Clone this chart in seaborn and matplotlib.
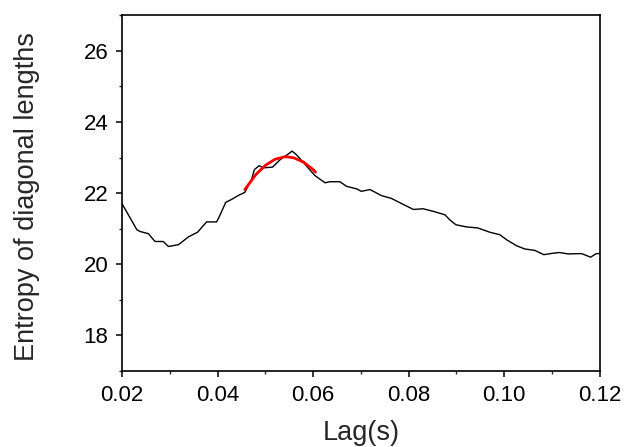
import matplotlib
matplotlib.use("Agg")
import matplotlib.pyplot as plt
import seaborn as sns
import pandas as pd
from matplotlib.ticker import MultipleLocator

lag = [0.0200, 0.0231, 0.0238, 0.0255, 0.0269, 0.0286, 0.0297, 0.0318, 0.0339, 0.0358,
       0.0377, 0.0398, 0.0406, 0.0417, 0.0429, 0.0443, 0.0457, 0.0471, 0.0477, 0.0487,
       0.0496, 0.0515, 0.0531, 0.0546, 0.0556, 0.0565, 0.0579, 0.0604, 0.0625, 0.0635,
       0.0656, 0.0670, 0.0691, 0.0701, 0.0719, 0.0743, 0.0764, 0.0789, 0.0810, 0.0830,
       0.0851, 0.0876, 0.0886, 0.0899, 0.0921, 0.0945, 0.0970, 0.0991, 0.1005, 0.1026,
       0.1043, 0.1064, 0.1083, 0.1102, 0.1116, 0.1134, 0.1162, 0.1181, 0.1193, 0.1200]
entropy = [21.70, 20.97, 20.92, 20.86, 20.64, 20.64, 20.50, 20.55, 20.77, 20.90,
           21.19, 21.19, 21.41, 21.74, 21.82, 21.93, 22.02, 22.38, 22.66, 22.77,
           22.71, 22.73, 22.94, 23.08, 23.18, 23.08, 22.87, 22.49, 22.29, 22.32,
           22.32, 22.19, 22.12, 22.05, 22.10, 21.93, 21.85, 21.68, 21.54, 21.56,
           21.49, 21.39, 21.25, 21.11, 21.05, 21.02, 20.90, 20.83, 20.69, 20.52,
           20.43, 20.39, 20.27, 20.31, 20.33, 20.29, 20.30, 20.20, 20.30, 20.30]

fit_lag = [0.0457, 0.0480, 0.0500, 0.0520, 0.0540, 0.0545, 0.0560, 0.0580, 0.0600, 0.0605]
fit_entropy = [22.10, 22.52, 22.78, 22.95, 23.02, 23.02, 22.99, 22.87, 22.66, 22.59]

x_ticks = [0.02, 0.04, 0.06, 0.08, 0.10, 0.12]
x_labels = ["0.02", "0.04", "0.06", "0.08", "0.10", "0.12"]
y_ticks = [18, 20, 22, 24, 26]

sns.set_style("ticks")
plt.rcParams["font.family"] = ["Liberation Sans", "DejaVu Sans"]

fig = plt.figure(figsize=(6.26, 4.47), dpi=100)
ax = fig.add_axes([0.195, 0.170, 0.763, 0.796])

df = pd.DataFrame({"lag": lag, "entropy": entropy})
fit = pd.DataFrame({"lag": fit_lag, "entropy": fit_entropy})
sns.lineplot(data=df, x="lag", y="entropy", ax=ax, color="black", linewidth=1.0, sort=False)
sns.lineplot(data=fit, x="lag", y="entropy", ax=ax, color="#ff0000", linewidth=2.0, sort=False)

ax.set_xlim(0.02, 0.12)
ax.set_ylim(17, 27)
ax.set_xticks(x_ticks)
ax.set_xticklabels(x_labels)
ax.set_yticks(y_ticks)
ax.xaxis.set_minor_locator(MultipleLocator(0.01))
ax.yaxis.set_minor_locator(MultipleLocator(1))
ax.tick_params(which="major", direction="out", length=4, width=1.1, labelsize=16, colors="black")
ax.tick_params(axis="y", which="major", pad=6)
ax.tick_params(axis="x", which="major", pad=6)
ax.tick_params(which="minor", direction="out", length=2.5, width=1.0)
ax.tick_params(top=False, right=False)
for s in ax.spines.values():
    s.set_visible(True)
    s.set_linewidth(1.2)
    s.set_color("black")

ax.set_xlabel("Lag(s)", fontsize=19.5, labelpad=10)
ax.set_ylabel("Entropy of diagonal lengths", fontsize=19.5)
ax.yaxis.set_label_coords(-0.171, 0.49)

fig.savefig("out.png", dpi=100)
